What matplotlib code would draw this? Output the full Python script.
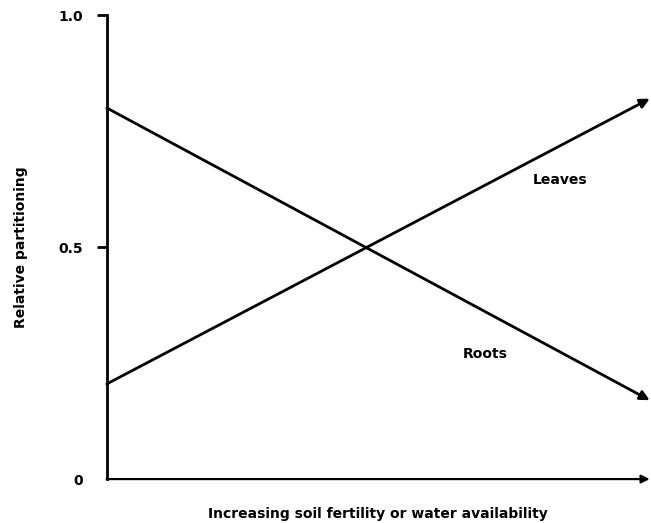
import matplotlib.pyplot as plt

# relative position along the soil fertility / water gradient
gradient = [0.0, 1.0]
leaves = [0.205, 0.82]
roots = [0.80, 0.17]

y_ticks = [0, 0.5, 1.0]
y_tick_labels = ["0", "0.5", "1.0"]

plt.rcParams['font.family'] = ['DejaVu Sans']

fig = plt.figure(figsize=(6.51, 5.23), dpi=100)
ax = fig.add_axes([0.164, 0.084, 0.834, 0.887])
ax.set_xlim(0, 1)
ax.set_ylim(0, 1)

# lines drawn as arrows from start to end value
for series in (leaves, roots):
    ax.annotate("", xy=(gradient[1], series[1]), xytext=(gradient[0], series[0]),
                arrowprops=dict(arrowstyle='-|>', color='black', lw=2.0,
                                mutation_scale=14, shrinkA=0, shrinkB=0),
                annotation_clip=False)

ax.text(0.785, 0.635, "Leaves", fontsize=10, fontweight='bold')
ax.text(0.656, 0.26, "Roots", fontsize=10, fontweight='bold')

# axes: left spine with ticks, bottom drawn as an arrow
for side in ('top', 'right', 'bottom'):
    ax.spines[side].set_visible(False)
ax.spines['left'].set_linewidth(2)
ax.annotate("", xy=(1.0, 0), xytext=(0, 0), xycoords='axes fraction',
            arrowprops=dict(arrowstyle='-|>', color='black', lw=1.6,
                            mutation_scale=12, shrinkA=0, shrinkB=0),
            annotation_clip=False)

ax.set_xticks([])
ax.set_yticks(y_ticks)
ax.set_yticklabels(y_tick_labels, fontsize=10, fontweight='bold')
ax.tick_params(axis='y', length=7, width=2, pad=10)
ax.get_yticklines()[0].set_visible(False)

ax.set_xlabel("Increasing soil fertility or water availability",
              fontsize=10, fontweight='bold', labelpad=20)
ax.set_ylabel("Relative partitioning", fontsize=10, fontweight='bold', labelpad=22)

fig.savefig("out.png", dpi=100)
